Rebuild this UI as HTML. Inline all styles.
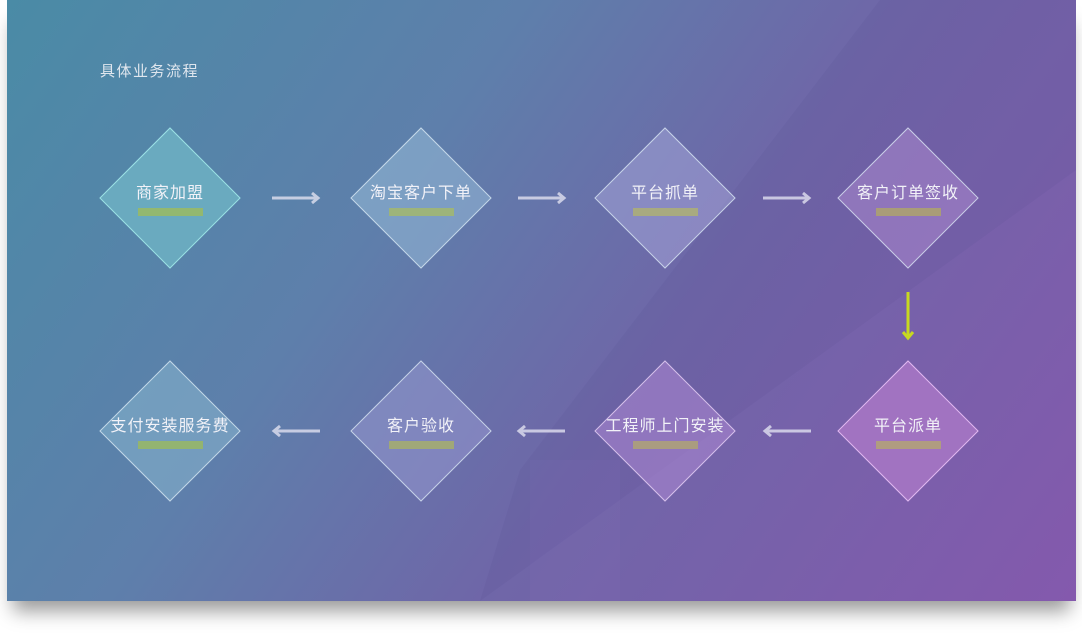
<!DOCTYPE html>
<html><head><meta charset="utf-8"><style>
html,body{margin:0;padding:0;width:1082px;height:644px;background:#fff;overflow:hidden;position:relative;font-family:"Liberation Sans","Noto Sans CJK SC",sans-serif}
.panel{position:absolute;left:7px;top:0;width:1069px;height:601px;background:linear-gradient(125deg,#4a8ba6 0%,#5e7fab 35%,#6f66a8 60%,#8459ad 100%);box-shadow:0 16px 18px -6px rgba(0,0,0,0.4)}
.bridge{position:absolute;left:0;top:0;width:1082px;height:601px}
.d{position:absolute;width:100px;height:100px;transform:rotate(45deg);border:1px solid rgba(220,235,245,0.75);box-sizing:border-box}
.t{position:absolute;width:200px;text-align:center;color:#f2f2f8;font-size:16px;letter-spacing:1px;line-height:20px}
.b{position:absolute;width:65px;height:8px}
.title{position:absolute;left:100px;top:60px;color:#dfe6ee;font-size:15px;letter-spacing:1.5px}
</style></head><body>
<div class="panel"></div>
<svg class="bridge" viewBox="0 0 1082 601">
<polygon points="480,601 1076,170 1076,0 880,0 520,470 480,601" fill="rgba(80,70,140,0.1)"/>
<rect x="530" y="460" width="90" height="141" fill="rgba(150,120,200,0.08)"/>
</svg>
<div class="title">具体业务流程</div>

<div class="d" style="left:120px;top:148px;background:#6aaabf;border-color:#9be0e4"></div>
<div class="d" style="left:371px;top:148px;background:rgba(150,185,215,0.55)"></div>
<div class="d" style="left:615px;top:148px;background:rgba(175,175,225,0.45)"></div>
<div class="d" style="left:858px;top:148px;background:rgba(175,140,210,0.5)"></div>
<div class="d" style="left:120px;top:381px;background:rgba(140,185,210,0.5)"></div>
<div class="d" style="left:371px;top:381px;background:rgba(160,160,215,0.45)"></div>
<div class="d" style="left:615px;top:381px;background:rgba(180,140,215,0.5);border-color:rgba(230,210,245,0.8)"></div>
<div class="d" style="left:858px;top:381px;background:#a173c1;border-color:#e0b8f0"></div>

<div class="t" style="left:70px;top:184px">商家加盟</div>
<div class="t" style="left:321px;top:184px">淘宝客户下单</div>
<div class="t" style="left:565px;top:184px">平台抓单</div>
<div class="t" style="left:808px;top:184px">客户订单签收</div>
<div class="t" style="left:70px;top:417px">支付安装服务费</div>
<div class="t" style="left:321px;top:417px">客户验收</div>
<div class="t" style="left:565px;top:417px">工程师上门安装</div>
<div class="t" style="left:808px;top:417px">平台派单</div>

<div class="b" style="left:138px;top:208px;background:#93b870"></div>
<div class="b" style="left:389px;top:208px;background:#9db47a"></div>
<div class="b" style="left:633px;top:208px;background:#a8aa80"></div>
<div class="b" style="left:876px;top:208px;background:#a99c78"></div>
<div class="b" style="left:138px;top:441px;background:#93b470"></div>
<div class="b" style="left:389px;top:441px;background:#a0a878"></div>
<div class="b" style="left:633px;top:441px;background:#aa9c80"></div>
<div class="b" style="left:876px;top:441px;background:#b09c80"></div>

<svg style="position:absolute;left:0;top:0" width="1082" height="644">
<g stroke="rgba(225,225,240,0.8)" stroke-width="3" fill="none">
<path d="M272 198H318M312 193l6 5-6 5"/>
<path d="M518 198H564M558 193l6 5-6 5"/>
<path d="M763 198H809M803 193l6 5-6 5"/>
<path d="M320 431H274M280 426l-6 5 6 5"/>
<path d="M565 431H519M525 426l-6 5 6 5"/>
<path d="M811 431H765M771 426l-6 5 6 5"/>
</g>
<path d="M908 292V338M903 332l5 6 5-6" stroke="#c8d820" stroke-width="3" fill="none"/>
</svg>
</body></html>
